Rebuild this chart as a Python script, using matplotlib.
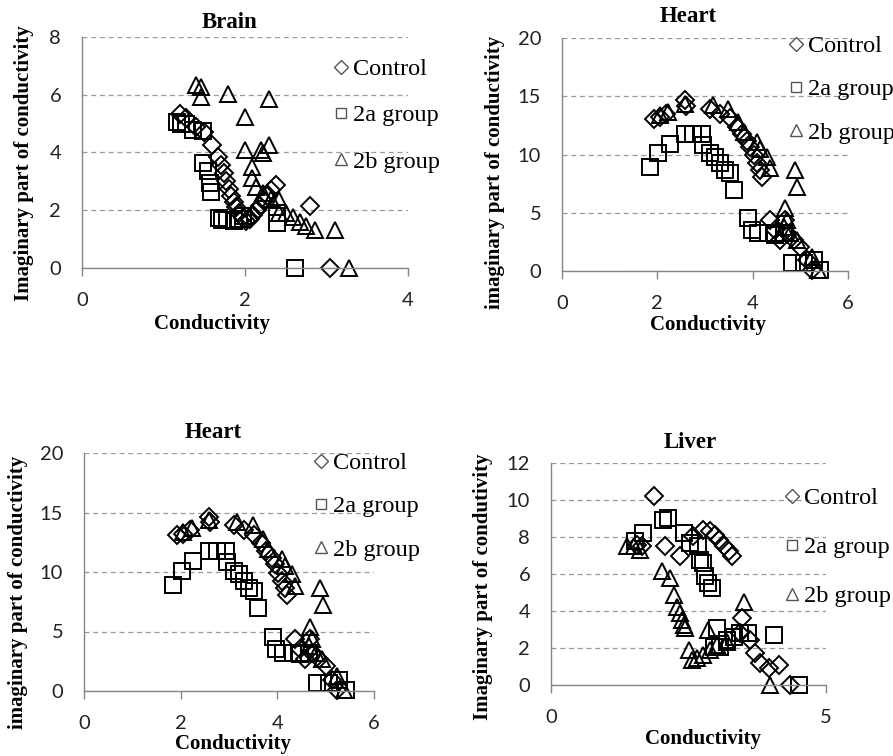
import matplotlib
matplotlib.use('Agg')
from matplotlib import pyplot as plt
from matplotlib.lines import Line2D
from matplotlib.font_manager import FontProperties

# ---- data ----
brain_ctrl_x = [1.20, 1.27, 1.40, 1.50, 1.59, 1.67, 1.71, 1.74, 1.77, 1.80, 1.83, 1.86, 1.89, 1.93,
                1.97, 2.01, 2.06, 2.10, 2.15, 2.19, 2.23, 2.27, 2.32, 2.38, 2.80, 3.04]
brain_ctrl_y = [5.35, 5.20, 4.89, 4.72, 4.26, 3.85, 3.55, 3.30, 3.00, 2.75, 2.50, 2.30, 2.10, 1.90,
                1.72, 1.62, 1.70, 1.84, 2.00, 2.15, 2.32, 2.50, 2.70, 2.88, 2.13, 0.00]
brain_2a_x = [1.16, 1.22, 1.28, 1.36, 1.49, 1.48, 1.54, 1.57, 1.58, 1.68, 1.72, 1.78, 1.86, 1.93,
              1.98, 2.39, 2.39, 2.61]
brain_2a_y = [5.06, 5.00, 5.00, 4.78, 4.75, 3.65, 3.35, 2.95, 2.64, 1.72, 1.66, 1.66, 1.64, 1.70,
              1.80, 1.55, 1.89, 0.00]
brain_2b_x = [1.40, 1.46, 1.46, 1.79, 2.30, 2.00, 2.00, 2.20, 2.30, 2.22, 2.08, 2.08, 2.14, 2.22,
              2.32, 2.42, 2.42, 2.50, 2.59, 2.67, 2.75, 2.86, 3.10, 3.28]
brain_2b_y = [6.33, 6.27, 5.93, 6.04, 5.87, 5.24, 4.09, 4.09, 4.26, 3.97, 3.51, 3.11, 2.82, 2.59,
              2.40, 2.36, 1.90, 1.90, 1.78, 1.61, 1.44, 1.32, 1.32, 0.00]

heart_ctrl_x = [1.93, 2.05, 2.19, 2.58, 2.60, 3.10, 3.31, 3.52, 3.67, 3.77, 3.88, 3.95, 4.02, 4.09,
                4.16, 4.19, 4.37, 4.47, 4.58, 4.68, 4.72, 4.86, 5.00, 5.14, 5.24]
heart_ctrl_y = [13.09, 13.20, 13.50, 14.66, 14.20, 13.94, 13.50, 13.10, 12.40, 11.80, 11.20, 10.66,
                9.94, 9.23, 8.66, 8.09, 4.37, 3.50, 2.66, 4.37, 3.23, 2.66, 2.09, 0.94, 0.09]
heart_2a_x = [1.84, 2.02, 2.26, 2.58, 2.75, 2.93, 2.96, 3.10, 3.21, 3.31, 3.42, 3.52, 3.60, 3.91,
              3.98, 4.12, 4.33, 4.47, 4.65, 4.82, 5.07, 5.28, 5.42]
heart_2a_y = [8.94, 10.09, 10.94, 11.80, 11.80, 11.80, 10.80, 10.09, 9.80, 9.23, 8.66, 8.37, 6.94,
              4.51, 3.51, 3.23, 3.23, 3.09, 3.23, 0.66, 0.66, 0.94, 0.09]
heart_2b_x = [2.05, 2.23, 2.58, 3.17, 3.49, 3.70, 3.81, 4.09, 4.16, 4.30, 4.37, 4.89, 4.94, 4.68,
              4.72, 4.79, 4.93, 5.24, 5.38, 4.65]
heart_2b_y = [13.37, 13.66, 14.37, 14.23, 13.94, 12.80, 11.94, 11.09, 10.51, 9.80, 8.80, 8.66, 7.23,
              5.37, 4.37, 3.23, 2.66, 1.23, 0.09, 3.80]

liver_ctrl_x = [1.88, 1.56, 1.65, 2.08, 2.35, 2.59, 2.77, 2.89, 2.99, 3.06, 3.14, 3.23, 3.29, 3.47,
                3.44, 3.62, 3.71, 3.80, 3.96, 4.14, 4.35]
liver_ctrl_y = [10.23, 7.56, 7.49, 7.53, 6.95, 8.03, 8.39, 8.30, 8.12, 7.85, 7.49, 7.22, 6.95, 3.61,
                2.80, 2.44, 1.71, 1.17, 0.90, 1.08, 0.00]
liver_2a_x = [1.53, 1.68, 2.04, 2.13, 2.41, 2.53, 2.68, 2.71, 2.77, 2.80, 2.86, 2.92, 3.02, 3.08,
              2.96, 3.20, 3.32, 3.44, 3.59, 4.05, 4.50]
liver_2a_y = [7.76, 8.21, 8.93, 9.02, 8.21, 7.67, 7.49, 6.77, 6.59, 5.87, 5.51, 5.23, 3.07, 2.08,
              2.08, 2.44, 2.62, 2.80, 2.80, 2.71, 0.00]
liver_2b_x = [1.38, 1.50, 1.62, 2.01, 2.17, 2.23, 2.29, 2.35, 2.38, 2.41, 2.44, 2.50, 2.56, 2.65,
              2.77, 2.86, 2.89, 3.02, 3.20, 3.50, 3.99]
liver_2b_y = [7.49, 7.49, 7.31, 6.14, 5.78, 4.87, 4.24, 3.88, 3.52, 3.25, 3.07, 1.90, 1.35, 1.44,
              1.62, 2.98, 1.90, 2.17, 2.35, 4.51, 0.00]

group_labels = ['Control', '2a group', '2b group']

W, H = 893, 756
fig = plt.figure(figsize=(W / 100, H / 100), dpi=100)

serif = 'Liberation Serif'
tickfont = 'Lato'
gray = '#868686'

# panel layout in pixels: axes box (left, top, right, bottom), title/xlabel/ylabel/legend anchors
panels = [
    dict(title='Brain', box=(82, 37, 408, 268), xlim=4, xticks=[0, 2, 4], ylim=8, yticks=[0, 2, 4, 6, 8],
         ylabel='Imaginary part of conductivity', title_xy=(230, 22), xlab_xy=(212, 324), ylab_xy=(24, 163),
         leg_xy=(332, 58), leg_sp=1.0,
         data=[(brain_ctrl_x, brain_ctrl_y), (brain_2a_x, brain_2a_y), (brain_2b_x, brain_2b_y)]),
    dict(title='Heart', box=(562, 38, 848, 271), xlim=6, xticks=[0, 2, 4, 6], ylim=20, yticks=[0, 5, 10, 15, 20],
         ylabel='imaginary part of conductivity', title_xy=(688, 17), xlab_xy=(708, 325), ylab_xy=(495, 172),
         leg_xy=(787, 35), leg_sp=0.88,
         data=[(heart_ctrl_x, heart_ctrl_y), (heart_2a_x, heart_2a_y), (heart_2b_x, heart_2b_y)]),
    dict(title='Heart', box=(84, 453, 374, 691), xlim=6, xticks=[0, 2, 4, 6], ylim=20, yticks=[0, 5, 10, 15, 20],
         ylabel='imaginary part of conductivity', title_xy=(213, 433), xlab_xy=(233, 744), ylab_xy=(18, 592),
         leg_xy=(312, 452), leg_sp=0.88,
         data=[(heart_ctrl_x, heart_ctrl_y), (heart_2a_x, heart_2a_y), (heart_2b_x, heart_2b_y)]),
    dict(title='Liver', box=(551, 463, 826, 685), xlim=5, xticks=[0, 5], ylim=12, yticks=[0, 2, 4, 6, 8, 10, 12],
         ylabel='Imaginary part of condutivity', title_xy=(690, 443), xlab_xy=(703, 739), ylab_xy=(483, 587),
         leg_xy=(783, 487), leg_sp=1.12,
         data=[(liver_ctrl_x, liver_ctrl_y), (liver_2a_x, liver_2a_y), (liver_2b_x, liver_2b_y)]),
]

markers = [('D', 9.5), ('s', 11), ('^', 12)]


def fx(px):
    return px / W


def fy(py):
    return 1 - py / H


for p in panels:
    l, t, r, b = p['box']
    ax = fig.add_axes([fx(l), fy(b), (r - l) / W, (b - t) / H])

    for (xs, ys), (m, ms) in zip(p['data'], markers):
        ax.plot(xs, ys, ls='none', marker=m, ms=ms, mfc='none', mec='black', mew=1.4, clip_on=False)

    ax.set_xlim(0, p['xlim'])
    ax.set_ylim(0, p['ylim'])
    ax.set_xticks(p['xticks'])
    ax.set_yticks(p['yticks'])

    ax.yaxis.grid(True, color='#999999', ls=(0, (4, 3)), lw=0.9)
    ax.set_axisbelow(True)
    for s in ['top', 'right']:
        ax.spines[s].set_visible(False)
    for s in ['left', 'bottom']:
        ax.spines[s].set_color(gray)
        ax.spines[s].set_linewidth(1.0)

    ax.tick_params(axis='x', direction='out', length=5.5, width=1.0, color=gray, pad=11.5,
                   labelsize=14.5, labelcolor='#222222')
    ax.tick_params(axis='y', length=0, pad=15, labelsize=14.5, labelcolor='#222222')
    for lab in ax.get_xticklabels() + ax.get_yticklabels():
        lab.set_family(tickfont)

    fig.text(fx(p['title_xy'][0]), fy(p['title_xy'][1]), p['title'], ha='center', va='center',
             family=serif, weight='bold', size=16.5)
    fig.text(fx(p['xlab_xy'][0]), fy(p['xlab_xy'][1]), 'Conductivity', ha='center', va='center',
             family=serif, weight='bold', size=15)
    fig.text(fx(p['ylab_xy'][0]), fy(p['ylab_xy'][1]), p['ylabel'], ha='center', va='center',
             rotation=90, family=serif, weight='bold', size=15)

    handles = [Line2D([], [], ls='none', marker=m, ms=ms * 0.7, mfc='none', mec='#555555', mew=1.0)
               for (m, ms) in markers]
    ax.legend(handles, group_labels, loc='upper left',
              bbox_to_anchor=(fx(p['leg_xy'][0]), fy(p['leg_xy'][1])), bbox_transform=fig.transFigure,
              frameon=False, borderpad=0, borderaxespad=0, handlelength=0.7, handletextpad=0.15,
              labelspacing=p['leg_sp'], prop=FontProperties(family=serif, size=17.5))

fig.savefig('out.png', dpi=100)
